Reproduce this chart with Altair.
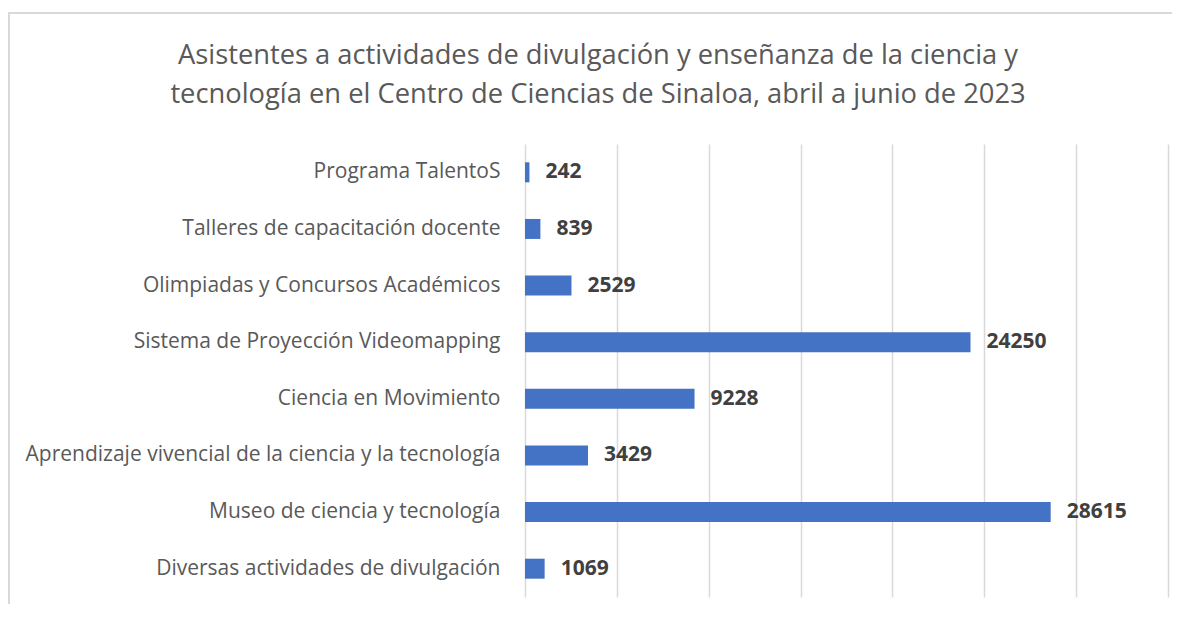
import altair as alt
import pandas as pd

categories = [
    "Programa TalentoS",
    "Talleres de capacitación docente",
    "Olimpiadas y Concursos Académicos",
    "Sistema de Proyección Videomapping",
    "Ciencia en Movimiento",
    "Aprendizaje vivencial de la ciencia y la tecnología",
    "Museo de ciencia y tecnología",
    "Diversas actividades de divulgación",
]
values = [242, 839, 2529, 24250, 9228, 3429, 28615, 1069]
grid_values = [0, 5000, 10000, 15000, 20000, 25000, 30000, 35000]

title_lines = [
    "Asistentes a actividades de divulgación y enseñanza de la ciencia y",
    "tecnología en el Centro de Ciencias de Sinaloa, abril a junio de 2023",
]

df = pd.DataFrame({"cat": categories, "val": values})

W, H = 643, 453
FONT = "Open Sans"

base = alt.Chart(df)

y_enc = alt.Y(
    "cat:N",
    sort=categories,
    scale=alt.Scale(paddingInner=0, paddingOuter=0),
    axis=alt.Axis(
        title=None, domain=False, ticks=False, labelFontSize=21,
        labelColor="#595959", labelPadding=25, labelFont=FONT, labelLimit=600,
    ),
)
x_enc = alt.X(
    "val:Q",
    scale=alt.Scale(domain=[0, 35000], nice=False, zero=True),
    axis=alt.Axis(
        title=None, labels=False, ticks=False, domain=False, grid=True,
        values=grid_values, gridColor="#d9d9d9", gridWidth=1.5,
    ),
)

bars = base.mark_bar(color="#4472C4", size=20).encode(y=y_enc, x=x_enc)
text = base.mark_text(
    align="left", baseline="middle", dx=16, fontWeight="bold", fontSize=21,
    color="#404040", font=FONT,
).encode(y=alt.Y("cat:N", sort=categories), x="val:Q", text="val:Q")

frame_df = pd.DataFrame({"a": [0]})
left_border = alt.Chart(frame_df).mark_rule(color="#d9d9d9", strokeWidth=2).encode(
    x=alt.value(-516), y=alt.value(-132), y2=alt.value(H + 10)
)
top_border = alt.Chart(frame_df).mark_rule(color="#d9d9d9", strokeWidth=2).encode(
    x=alt.value(-517), x2=alt.value(W + 4), y=alt.value(-131)
)

title1 = alt.Chart(pd.DataFrame({"t": [title_lines[0]]})).mark_text(
    align="center", baseline="alphabetic", fontSize=27.3, font=FONT, color="#595959"
).encode(x=alt.value(73), y=alt.value(64 - 144), text="t:N")
title2 = alt.Chart(pd.DataFrame({"t": [title_lines[1]]})).mark_text(
    align="center", baseline="alphabetic", fontSize=27.3, font=FONT, color="#595959"
).encode(x=alt.value(73), y=alt.value(103 - 144), text="t:N")

chart = alt.layer(bars, text, left_border, top_border, title1, title2).properties(
    width=W,
    height=H,
    autosize=alt.AutoSizeParams(type="none"),
    padding={"left": 517, "top": 136, "right": 4, "bottom": 7},
).configure_view(stroke=None)

chart.save("out.html", embed_options={"renderer": "svg", "actions": False})
